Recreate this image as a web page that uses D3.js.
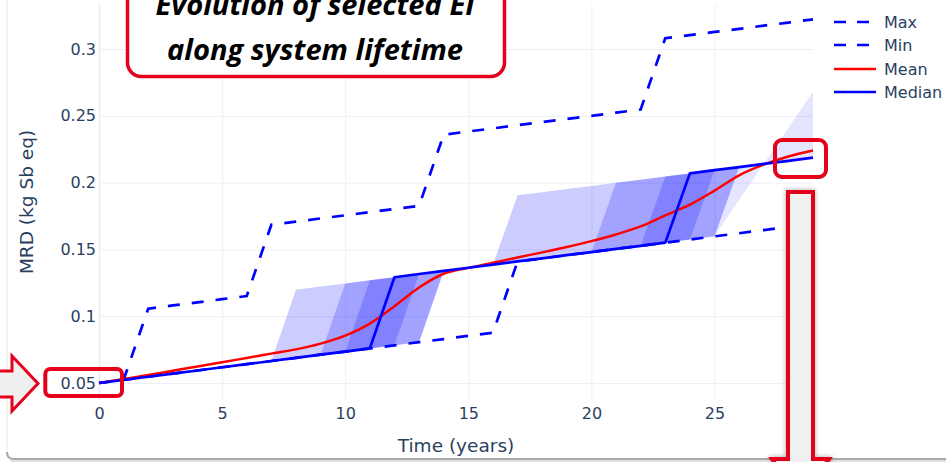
<!DOCTYPE html>
<html><head><meta charset="utf-8">
<script src="https://cdn.jsdelivr.net/npm/d3@7"></script>
<style>html,body{margin:0;padding:0;background:#fff;overflow:hidden}</style>
</head><body>
<svg id="chart" width="946" height="462"></svg>
<script>
// ---------------- data ----------------
const years = [0,1,2,3,4,5,6,7,8,9,10,11,12,13,14,15,16,17,18,19,20,21,22,23,24,25,26,27,28,29];
const maxVals = [0.0500,0.0524,0.1057,0.1081,0.1104,0.1128,0.1151,0.1685,0.1708,0.1732,0.1755,0.1779,0.1802,0.1826,0.2359,0.2383,0.2406,0.2430,0.2453,0.2477,0.2500,0.2524,0.2547,0.3081,0.3104,0.3128,0.3151,0.3175,0.3198,0.3222];
const minVals = [0.0500,0.0524,0.0547,0.0571,0.0594,0.0618,0.0641,0.0665,0.0688,0.0712,0.0735,0.0759,0.0782,0.0806,0.0829,0.0853,0.0876,0.1410,0.1433,0.1457,0.1480,0.1504,0.1527,0.1551,0.1574,0.1598,0.1621,0.1645,0.1668,0.1692];
const meanVals = [0.0500,0.0530,0.0560,0.0592,0.0624,0.0655,0.0688,0.0720,0.0752,0.0795,0.0855,0.0945,0.1075,0.1215,0.1318,0.1362,0.1400,0.1440,0.1478,0.1518,0.1562,0.1612,0.1672,0.1755,0.1835,0.1940,0.2055,0.2135,0.2195,0.2240];
const medianVals = [0.0500,0.0524,0.0547,0.0571,0.0594,0.0618,0.0641,0.0665,0.0688,0.0712,0.0735,0.0759,0.1292,0.1316,0.1339,0.1363,0.1386,0.1410,0.1433,0.1457,0.1480,0.1504,0.1527,0.1551,0.2069,0.2093,0.2116,0.2140,0.2163,0.2187];

// percentile band edges
const bandOuterLo = [0.0500,0.0524,0.0547,0.0571,0.0594,0.0618,0.0641,0.0665,0.1198,0.1222,0.1245,0.1269,0.1292,0.1316,0.1339,0.1363,0.1386,0.1905,0.1928,0.1952,0.1975,0.1999,0.2022,0.2046,0.2069,0.2093,0.2116,0.2140,0.2163,0.2187];
const bandOuterHi = [0.0500,0.0524,0.0547,0.0571,0.0594,0.0618,0.0641,0.0665,0.0688,0.0712,0.0735,0.0759,0.0782,0.0806,0.1339,0.1363,0.1386,0.1410,0.1433,0.1457,0.1480,0.1504,0.1527,0.1551,0.1574,0.1598,0.2116,0.2140,0.2163,0.2187];
const bandMidLo = [0.0500,0.0524,0.0547,0.0571,0.0594,0.0618,0.0641,0.0665,0.0688,0.0712,0.1245,0.1269,0.1292,0.1316,0.1339,0.1363,0.1386,0.1410,0.1433,0.1457,0.1480,0.1999,0.2022,0.2046,0.2069,0.2093,0.2116,0.2140,0.2163,0.2187];
const bandMidHi = [0.0500,0.0524,0.0547,0.0571,0.0594,0.0618,0.0641,0.0665,0.0688,0.0712,0.0735,0.0759,0.0782,0.0806,0.1339,0.1363,0.1386,0.1410,0.1433,0.1457,0.1480,0.1504,0.1527,0.1551,0.1574,0.1598,0.2116,0.2140,0.2163,0.2187];
const bandInnerLo = [0.0500,0.0524,0.0547,0.0571,0.0594,0.0618,0.0641,0.0665,0.0688,0.0712,0.0735,0.1269,0.1292,0.1316,0.1339,0.1363,0.1386,0.1410,0.1433,0.1457,0.1480,0.1504,0.1527,0.2046,0.2069,0.2093,0.2116,0.2140,0.2163,0.2187];
const bandInnerHi = [0.0500,0.0524,0.0547,0.0571,0.0594,0.0618,0.0641,0.0665,0.0688,0.0712,0.0735,0.0759,0.0782,0.1316,0.1339,0.1363,0.1386,0.1410,0.1433,0.1457,0.1480,0.1504,0.1527,0.1551,0.1574,0.2093,0.2116,0.2140,0.2163,0.2187];
const tailYears = [25,26,27,28,29];
const tailLo = [0.1598,0.2116,0.2140,0.2163,0.2187];
const tailHi = [0.1598,0.1870,0.2140,0.2410,0.2680];

const xTicks = [0,5,10,15,20,25];
const yTicks = [0.05,0.1,0.15,0.2,0.25,0.3];
const yTickLabels = ["0.05","0.1","0.15","0.2","0.25","0.3"];
const legendNames = ["Max","Min","Mean","Median"];
const titleLines = ["Evolution of selected EI","along system lifetime"];

// ---------------- drawing ----------------
const svg = d3.select("#chart");
const FONT = "'DejaVu Sans', Verdana, sans-serif";
const TXT = "#2a3f5f";
const GRID = "#ebf0f8";
const plot = {left:99, right:813, top:4, bottom:400};

const x = d3.scaleLinear().domain([0,29]).range([plot.left, plot.right]);
const y = d3.scaleLinear().domain([0.0373,0.3337]).range([plot.bottom, plot.top]);

const defs = svg.append("defs");
const f = defs.append("filter").attr("id","shadow").attr("x","-50%").attr("y","-20%").attr("width","200%").attr("height","140%");
f.append("feDropShadow").attr("dx",0).attr("dy",0).attr("stdDeviation",2.5).attr("flood-color","#000").attr("flood-opacity",0.35);

// window frame
svg.append("line").attr("x1",7).attr("x2",7).attr("y1",0).attr("y2",455).attr("stroke","#e6e6e6").attr("stroke-width",1);
svg.append("path").attr("d","M7,452 Q7,459 14,459 L946,459").attr("fill","none").attr("stroke","#a8a8a8").attr("stroke-width",2);
svg.append("line").attr("x1",10).attr("x2",946).attr("y1",461).attr("y2",461).attr("stroke","#d8d8d8").attr("stroke-width",1.5);

// gridlines
const gx = svg.append("g").attr("transform",`translate(0,${plot.bottom})`)
  .call(d3.axisBottom(x).tickValues(xTicks).tickSize(-(plot.bottom-plot.top)).tickFormat(""));
gx.select(".domain").remove();
gx.selectAll("line").attr("stroke",GRID).attr("stroke-width",d=>d===0?2:1);
const gy = svg.append("g").attr("transform",`translate(${plot.left},0)`)
  .call(d3.axisLeft(y).tickValues(yTicks).tickSize(-(plot.right-plot.left)).tickFormat(""));
gy.select(".domain").remove();
gy.selectAll("line").attr("stroke",GRID).attr("stroke-width",1);

// bands
const area = (lo,hi,xs)=>d3.area().x((d,i)=>x(xs[i])).y0((d,i)=>y(lo[i])).y1((d,i)=>y(hi[i]))(lo);
const bandFill = "rgba(0,0,255,0.2)";
[[bandOuterLo,bandOuterHi],[bandMidLo,bandMidHi],[bandInnerLo,bandInnerHi]].forEach(([lo,hi])=>{
  svg.append("path").attr("d",area(lo,hi,years)).attr("fill",bandFill).attr("stroke","none");
});
svg.append("path").attr("d",area(tailLo,tailHi,tailYears)).attr("fill","rgba(0,0,255,0.1)").attr("stroke","none");

// lines
const lineGen = (vals,curve)=>d3.line().x((d,i)=>x(years[i])).y(d=>y(d)).curve(curve||d3.curveLinear)(vals);
svg.append("path").attr("d",lineGen(maxVals)).attr("fill","none").attr("stroke","#0000ff").attr("stroke-width",2.7).attr("stroke-dasharray","12,12");
svg.append("path").attr("d",lineGen(minVals)).attr("fill","none").attr("stroke","#0000ff").attr("stroke-width",2.7).attr("stroke-dasharray","12,12");
svg.append("path").attr("d",lineGen(meanVals,d3.curveMonotoneX)).attr("fill","none").attr("stroke","#ff0000").attr("stroke-width",2.5);
svg.append("path").attr("d",lineGen(medianVals)).attr("fill","none").attr("stroke","#0000ff").attr("stroke-width",2.7).attr("stroke-linejoin","round");

// axes labels
const ax = svg.append("g").attr("transform",`translate(0,${plot.bottom})`)
  .call(d3.axisBottom(x).tickValues(xTicks).tickSize(0).tickPadding(8).tickFormat(d3.format("d")));
ax.select(".domain").remove();
ax.selectAll("text").attr("font-family",FONT).attr("font-size",16).attr("fill",TXT);
const ay = svg.append("g").attr("transform",`translate(${plot.left},0)`)
  .call(d3.axisLeft(y).tickValues(yTicks).tickSize(0).tickPadding(3).tickFormat((d,i)=>yTickLabels[i]));
ay.select(".domain").remove();
ay.selectAll("text").attr("font-family",FONT).attr("font-size",16).attr("fill",TXT);

svg.append("text").attr("x",(plot.left+plot.right)/2).attr("y",452).attr("text-anchor","middle")
  .attr("font-family",FONT).attr("font-size",18.5).attr("fill",TXT).text("Time (years)");
svg.append("text").attr("transform",`translate(33,${(plot.top+plot.bottom)/2}) rotate(-90)`).attr("text-anchor","middle")
  .attr("font-family",FONT).attr("font-size",18.5).attr("fill",TXT).text("MRD (kg Sb eq)");

// legend
const legY = [22,45,69,92];
const legStyle = [
  {c:"#0000ff",dash:"12,11"},{c:"#0000ff",dash:"12,11"},{c:"#ff0000",dash:null},{c:"#0000ff",dash:null}];
legendNames.forEach((n,i)=>{
  const l = svg.append("line").attr("x1",834).attr("x2",876).attr("y1",legY[i]).attr("y2",legY[i])
    .attr("stroke",legStyle[i].c).attr("stroke-width",2.7);
  if (legStyle[i].dash) l.attr("stroke-dasharray",legStyle[i].dash);
  svg.append("text").attr("x",884).attr("y",legY[i]).attr("dy","0.35em").attr("font-family",FONT)
    .attr("font-size",16).attr("fill",TXT).text(n);
});

// ---------------- annotations ----------------
const RED = "#e5001c";
// title box
svg.append("rect").attr("x",127.5).attr("y",-30).attr("width",377).attr("height",106.5).attr("rx",14)
  .attr("fill","#fff").attr("stroke",RED).attr("stroke-width",3.5);
const tFont = "'Open Sans','Noto Sans','DejaVu Sans',sans-serif";
const tY = [15,60];
const tEls = titleLines.map((t,i)=>svg.append("text").attr("x",315).attr("y",tY[i]).attr("text-anchor","middle")
  .attr("font-family",tFont).attr("font-weight","bold").attr("font-style","italic").attr("font-size",26)
  .attr("fill","#000").text(t));
const w2 = tEls[1].node().getComputedTextLength();
const fs = 26*296/w2;
tEls.forEach(e=>e.attr("font-size",fs));

// left arrow
svg.append("path").attr("d","M-5,371 L12,371 L12,356 L38,383.5 L12,411 L12,397 L-5,397 Z")
  .attr("fill","#efefef").attr("stroke",RED).attr("stroke-width",3).attr("stroke-linejoin","miter");
// box around 0.05
svg.append("rect").attr("x",45.3).attr("y",369).attr("width",76.7).attr("height",27).attr("rx",5)
  .attr("fill","none").attr("stroke",RED).attr("stroke-width",4);
// box at line ends
svg.append("rect").attr("x",775).attr("y",140).attr("width",51).attr("height",37).attr("rx",7)
  .attr("fill","none").attr("stroke",RED).attr("stroke-width",4);
// down arrow
svg.append("path").attr("d","M788,192 L813,192 L813,459 L829,459 L800.5,500 L772,459 L788,459 Z")
  .attr("fill","#f0f0f0").attr("stroke",RED).attr("stroke-width",4).attr("filter","url(#shadow)");
</script>
</body></html>
